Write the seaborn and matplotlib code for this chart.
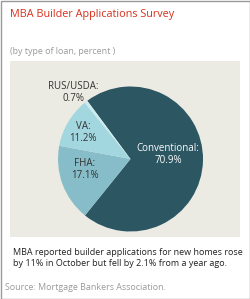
import seaborn as sns
from matplotlib import pyplot as plt
from matplotlib.patches import Rectangle

# data
loan_types = ["Conventional", "FHA", "VA", "RUS/USDA"]
shares = [70.9, 17.1, 11.2, 0.7]
slice_colors = ["#2b5662", "#86bdc9", "#a2d7df", "#cdebef"]
label_colors = ["white", "#333333", "#333333", "#333333"]
label_pos = [(0.52, 0.06), (-0.63, -0.15), (-0.65, 0.37), (-0.79, 0.92)]

sns.set_style("white")
plt.rcParams['font.family'] = ['Open Sans', 'DejaVu Sans']

fig = plt.figure(figsize=(2.5, 2.99), dpi=100)
W, H = 250, 299

# outer frame and beige panel (kept below the axes)
fig.patches.append(Rectangle((0.5 / W, 0.5 / H), 1 - 1 / W, 1 - 1 / H, transform=fig.transFigure,
                             fill=False, edgecolor="#9a9a9a", linewidth=1, zorder=-2))
fig.patches.append(Rectangle((10 / W, 1 - 237 / H), 230 / W, 176 / H, transform=fig.transFigure,
                             facecolor="#ebeae3", edgecolor="none", zorder=-1))

# pie axes: centre (130.5,159), radius 72.5 px
cx, cy, r = 130.5, 159, 72.5
ax = fig.add_axes([(cx - r) / W, 1 - (cy + r) / H, 2 * r / W, 2 * r / H])
ax.set_zorder(2)
ax.patch.set_alpha(0)
ax.pie(shares, colors=slice_colors, startangle=126.6, counterclock=False,
       wedgeprops=dict(linewidth=0))
ax.set_xlim(-1, 1)
ax.set_ylim(-1, 1)
ax.set_aspect("equal")
ax.axis("off")

for name, val, (x, y), c in zip(loan_types, shares, label_pos, label_colors):
    ax.text(x, y, f"{name}:\n{val}%", ha="center", va="center", fontsize=7,
            color=c, linespacing=1.15)

fig.text(10 / W, 1 - 15 / H, "MBA Builder Applications Survey", fontsize=7.8,
         color="#d6311d", va="center", ha="left")
fig.text(10 / W, 1 - 51 / H, "(by type of loan, percent )", fontsize=6.4,
         color="#9a9a9a", va="center", ha="left")
fig.text(13 / W, 1 - 258 / H,
         "MBA reported builder applications for new homes rose\nby 11% in October but fell by 2.1% from a year ago.",
         fontsize=6.5, color="#222222", va="center", ha="left", linespacing=1.25)
fig.text(5 / W, 1 - 288 / H, "Source: Mortgage Bankers Association.", fontsize=6.4,
         color="#9a9a9a", va="center", ha="left")

fig.savefig("out.png", dpi=100)
